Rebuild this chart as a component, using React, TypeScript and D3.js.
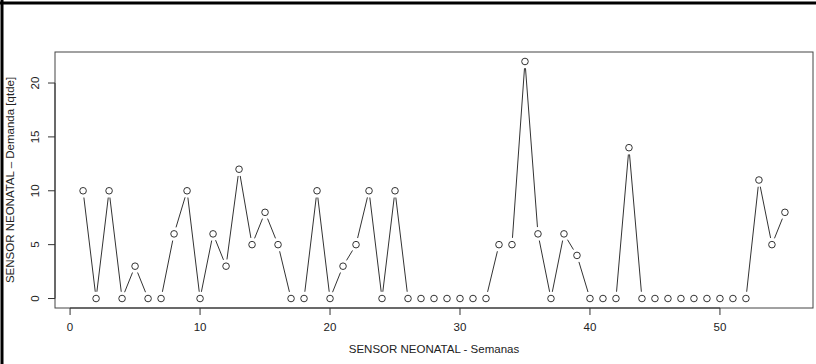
import React from "react";
import * as d3 from "d3";

// Weekly demand for the neonatal sensor
const weeks: number[] = Array.from({ length: 55 }, (_, i) => i + 1);
const demand: number[] = [
  10, 0, 10, 0, 3, 0, 0, 6, 10, 0,
  6, 3, 12, 5, 8, 5, 0, 0, 10, 0,
  3, 5, 10, 0, 10, 0, 0, 0, 0, 0,
  0, 0, 5, 5, 22, 6, 0, 6, 4, 0,
  0, 0, 14, 0, 0, 0, 0, 0, 0, 0,
  0, 0, 11, 5, 8,
];
const xTicks: number[] = [0, 10, 20, 30, 40, 50];
const yTicks: number[] = [0, 5, 10, 15, 20];
const xTitle = "SENSOR NEONATAL - Semanas";
const yTitle = "SENSOR NEONATAL – Demanda [qtde]";

const W = 816;
const H = 364;
const box = { left: 55, right: 813, top: 52, bottom: 308 };
const FONT = "'Liberation Sans', Arial, sans-serif";
const INK = "#333";

export default function App() {
  // R-style 4% padding on both axes
  const xExt = d3.extent(weeks) as [number, number];
  const yExt = [0, d3.max(demand) as number];
  const xPad = (xExt[1] - xExt[0]) * 0.04;
  const yPad = (yExt[1] - yExt[0]) * 0.04;
  const x = d3.scaleLinear().domain([xExt[0] - xPad, xExt[1] + xPad]).range([box.left, box.right]);
  const y = d3.scaleLinear().domain([yExt[0] - yPad, yExt[1] + yPad]).range([box.bottom, box.top]);

  const pts = weeks.map((w, i) => [x(w), y(demand[i])] as [number, number]);
  const r = 3.3;
  const gap = 6.8;

  // Segments between consecutive points, trimmed so they stop short of the circles;
  // segments too short to survive the trimming are dropped
  const segs = pts.slice(1).map((p, i) => {
    const a = pts[i];
    const dx = p[0] - a[0];
    const dy = p[1] - a[1];
    const len = Math.hypot(dx, dy);
    if (len <= 2 * gap) return null;
    const ux = dx / len;
    const uy = dy / len;
    return {
      x1: a[0] + ux * gap,
      y1: a[1] + uy * gap,
      x2: p[0] - ux * gap,
      y2: p[1] - uy * gap,
    };
  });

  const tickLen = 7;

  return (
    <svg
      width={W}
      height={H}
      style={{ position: "absolute", left: 0, top: 0, background: "#fff" }}
      fontFamily={FONT}
    >
      <rect x={0} y={0} width={W} height={H} fill="#fff" />
      {/* frame edges */}
      <line x1={0} y1={3} x2={W} y2={3} stroke="#000" strokeWidth={3} />
      <line x1={2} y1={0} x2={2} y2={H} stroke="#000" strokeWidth={3} />

      {/* plot box */}
      <rect
        x={box.left}
        y={box.top}
        width={box.right - box.left}
        height={box.bottom - box.top}
        fill="none"
        stroke="#444"
        strokeWidth={1}
      />

      {/* x axis */}
      <line x1={x(xTicks[0])} x2={x(xTicks[xTicks.length - 1])} y1={box.bottom} y2={box.bottom} stroke={INK} />
      {xTicks.map((t) => (
        <g key={"x" + t}>
          <line x1={x(t)} x2={x(t)} y1={box.bottom} y2={box.bottom + tickLen} stroke={INK} />
          <text x={x(t)} y={box.bottom + 20} textAnchor="middle" dominantBaseline="middle" fontSize={11.5} fill="#222">
            {t}
          </text>
        </g>
      ))}
      <text x={(box.left + box.right) / 2} y={350} textAnchor="middle" dominantBaseline="middle" fontSize={11.5} fill="#222">
        {xTitle}
      </text>

      {/* y axis */}
      <line x1={box.left} x2={box.left} y1={y(yTicks[0])} y2={y(yTicks[yTicks.length - 1])} stroke={INK} />
      {yTicks.map((t) => (
        <g key={"y" + t}>
          <line x1={box.left - tickLen} x2={box.left} y1={y(t)} y2={y(t)} stroke={INK} />
          <text
            transform={`translate(36,${y(t)}) rotate(-90)`}
            textAnchor="middle"
            dominantBaseline="middle"
            fontSize={11.5}
            fill="#222"
          >
            {t}
          </text>
        </g>
      ))}
      <text
        transform={`translate(11,${(box.top + box.bottom) / 2}) rotate(-90)`}
        textAnchor="middle"
        dominantBaseline="middle"
        fontSize={11.5}
        fill="#222"
      >
        {yTitle}
      </text>

      {/* series: lines with gaps and open circles */}
      {segs.map((s, i) =>
        s ? <line key={"s" + i} x1={s.x1} y1={s.y1} x2={s.x2} y2={s.y2} stroke="#333" strokeWidth={1} /> : null
      )}
      {pts.map((p, i) => (
        <circle key={"p" + i} cx={p[0]} cy={p[1]} r={r} fill="none" stroke="#333" strokeWidth={1} />
      ))}
    </svg>
  );
}
